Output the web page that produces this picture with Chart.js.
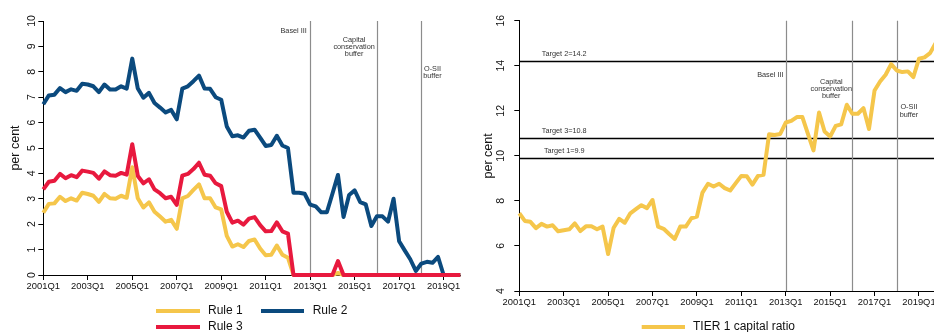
<!DOCTYPE html>
<html>
<head>
<meta charset="utf-8">
<script src="https://cdn.jsdelivr.net/npm/chart.js@4.4.1/dist/chart.umd.min.js"></script>
<style>
    html, body { margin: 0; padding: 0; background: #fff; overflow: hidden; width: 934px; height: 332px; }
    #box-rules { position: absolute; left: 0; top: 0; width: 467px; height: 332px; }
    #box-tier1 { position: absolute; left: 467px; top: 0; width: 480px; height: 332px; }
</style>
</head>
<body>
<div id="box-rules"><canvas id="chart-rules" width="467" height="332"></canvas></div>
<div id="box-tier1"><canvas id="chart-tier1" width="480" height="332"></canvas></div>
<script>
// ---- Data ----
const years = [2001, 2002, 2003, 2004, 2005, 2006, 2007, 2008, 2009, 2010,
               2011, 2012, 2013, 2014, 2015, 2016, 2017, 2018, 2019];
const quarters = [];
years.forEach(function (y) {
    ['Q1', 'Q2', 'Q3', 'Q4'].forEach(function (q) { quarters.push(y + q); });
});

const rule1 = [2.45, 2.8, 2.82, 3.08, 2.91, 3.02, 2.93, 3.24, 3.19, 3.12, 2.88, 3.19, 3.02, 3.0, 3.12, 3.04,
               4.24, 3.02, 2.66, 2.86, 2.49, 2.3, 2.1, 2.17, 1.82, 3.02, 3.11, 3.35, 3.57, 3.02, 3.02, 2.66,
               2.58, 1.54, 1.12, 1.21, 1.1, 1.34, 1.4, 1.04, 0.78, 0.8, 1.16, 0.8, 0.68, 0, 0, 0,
               0, 0, 0, 0, 0, 0.08, 0, 0, 0, 0, 0, 0, 0, 0, 0, 0,
               0, 0, 0, 0, 0, 0, 0, 0, 0, 0, 0, 0];
const rule2 = [6.72, 7.07, 7.1, 7.36, 7.2, 7.31, 7.25, 7.53, 7.5, 7.43, 7.2, 7.5, 7.3, 7.3, 7.43, 7.34,
               8.52, 7.34, 6.98, 7.17, 6.77, 6.59, 6.4, 6.5, 6.13, 7.34, 7.43, 7.63, 7.85, 7.34, 7.33, 7.0,
               6.9, 5.85, 5.46, 5.5, 5.41, 5.68, 5.72, 5.41, 5.08, 5.12, 5.48, 5.1, 5.0, 3.24, 3.24, 3.2,
               2.77, 2.7, 2.47, 2.47, 3.2, 3.94, 2.28, 3.15, 3.33, 2.87, 2.78, 1.93, 2.31, 2.31, 2.1, 3.0,
               1.33, 0.97, 0.62, 0.16, 0.45, 0.52, 0.48, 0.71, 0, 0, 0, 0];
const rule3 = [3.37, 3.67, 3.71, 3.98, 3.81, 3.93, 3.85, 4.11, 4.07, 4.02, 3.79, 4.08, 3.93, 3.91, 4.02, 3.95,
               5.15, 3.9, 3.61, 3.77, 3.37, 3.22, 3.02, 3.08, 2.76, 3.91, 3.98, 4.17, 4.42, 3.95, 3.91, 3.61,
               3.5, 2.49, 2.06, 2.14, 1.98, 2.22, 2.28, 1.96, 1.72, 1.73, 2.07, 1.72, 1.63, 0, 0, 0,
               0, 0, 0, 0, 0, 0.55, 0, 0, 0, 0, 0, 0, 0, 0, 0, 0,
               0, 0, 0, 0, 0, 0, 0, 0, 0, 0, 0, 0];
const tier1 = [7.45, 7.11, 7.07, 6.79, 6.98, 6.86, 6.92, 6.65, 6.7, 6.74, 7.0, 6.66, 6.87, 6.87, 6.74, 6.86,
               5.64, 6.81, 7.2, 7.03, 7.45, 7.63, 7.81, 7.68, 8.04, 6.86, 6.76, 6.53, 6.31, 6.86, 6.86, 7.23,
               7.3, 8.37, 8.76, 8.64, 8.76, 8.57, 8.46, 8.79, 9.11, 9.09, 8.72, 9.11, 9.16, 10.96, 10.93, 10.97,
               11.48, 11.55, 11.72, 11.72, 10.98, 10.24, 11.92, 11.08, 10.86, 11.33, 11.4, 12.27, 11.87, 11.87, 12.12, 11.19,
               12.9, 13.3, 13.6, 14.07, 13.79, 13.72, 13.75, 13.5, 14.31, 14.37, 14.56, 15.0];

// policy events (quarter index) and their labels
const eventIndex = [48, 60, 68];
const eventText = [['Basel III'], ['Capital', 'conservation', 'buffer'], ['O-SII', 'buffer']];

// capital targets on the right chart
const targetValues = [14.2, 10.8, 9.9];
const targetText = ['Target 2=14.2', 'Target 3=10.8', 'Target 1=9.9'];

const COL_YELLOW = '#F5C64B';
const COL_RED = '#E8193E';
const COL_BLUE = '#0B4A7E';
const FONT = '"Liberation Sans", Arial, Helvetica, sans-serif';

Chart.defaults.font.family = FONT;
Chart.defaults.color = '#111';

// ---- Overlay plugin: event lines, targets, rotated y labels, legend ----
const overlay = {
    id: 'overlay',
    beforeDatasetsDraw: function (chart, args, opts) {
        const ctx = chart.ctx;
        const area = chart.chartArea;
        const x = chart.scales.x;
        const y = chart.scales.y;
        ctx.save();
        (opts.targets || []).forEach(function (v) {
            const py = Math.round(y.getPixelForValue(v)) + 0.5;
            ctx.strokeStyle = '#000';
            ctx.lineWidth = 1.3;
            ctx.beginPath();
            ctx.moveTo(area.left, py);
            ctx.lineTo(area.right, py);
            ctx.stroke();
        });
        eventIndex.forEach(function (i) {
            const px = Math.round(x.getPixelForValue(i)) + 0.5;
            ctx.strokeStyle = '#8c8c8c';
            ctx.lineWidth = 1.2;
            ctx.beginPath();
            ctx.moveTo(px, area.top);
            ctx.lineTo(px, area.bottom);
            ctx.stroke();
        });
        ctx.restore();
    },
    afterDraw: function (chart, args, opts) {
        const ctx = chart.ctx;
        const area = chart.chartArea;
        const x = chart.scales.x;
        const y = chart.scales.y;
        ctx.save();

        // y tick labels, rotated like the original
        ctx.fillStyle = '#111';
        ctx.font = '10.5px ' + FONT;
        ctx.textAlign = 'center';
        ctx.textBaseline = 'middle';
        y.ticks.forEach(function (t) {
            ctx.save();
            ctx.translate(area.left - opts.tickOffset, y.getPixelForValue(t.value));
            ctx.rotate(-Math.PI / 2);
            ctx.fillText(String(t.value), 0, 0);
            ctx.restore();
        });

        // event labels
        ctx.fillStyle = '#333';
        ctx.font = '7.3px ' + FONT;
        opts.eventLabels.forEach(function (p, k) {
            ctx.textAlign = p.align;
            const px = x.getPixelForValue(p.idx);
            const py = y.getPixelForValue(p.val);
            eventText[k].forEach(function (line, j) {
                ctx.fillText(line, px, py + j * 7.2);
            });
        });

        // target labels
        (opts.targets || []).forEach(function (v, k) {
            ctx.textAlign = 'center';
            ctx.fillText(targetText[k], x.getPixelForValue(opts.targetLabelIdx), y.getPixelForValue(v) - 7);
        });

        // legend
        ctx.font = '12px ' + FONT;
        ctx.textAlign = 'left';
        opts.legend.forEach(function (item) {
            const ds = chart.data.datasets[item.ds];
            ctx.strokeStyle = ds.borderColor;
            ctx.lineWidth = 4;
            ctx.beginPath();
            ctx.moveTo(item.x1, item.y);
            ctx.lineTo(item.x2, item.y);
            ctx.stroke();
            ctx.fillStyle = '#111';
            ctx.fillText(ds.label, item.tx, item.y);
        });
        ctx.restore();
    }
};

function lineSet(label, data, color, order) {
    return {
        label: label,
        data: data,
        borderColor: color,
        backgroundColor: color,
        borderWidth: 4,
        pointRadius: 0,
        tension: 0,
        borderJoinStyle: 'round',
        clip: false,
        order: order
    };
}

function axes(yMin, yMax, yStep, xHeight, yWidth, titlePad) {
    return {
        x: {
            type: 'category',
            grid: { display: true, drawOnChartArea: false, drawTicks: true, tickLength: 5, tickColor: '#000' },
            border: { display: true, color: '#000', width: 1 },
            ticks: {
                autoSkip: false,
                maxRotation: 0,
                minRotation: 0,
                padding: 1,
                font: { size: 9.4 },
                color: '#111',
                callback: function (val, i) { return i % 8 === 0 ? quarters[i] : null; }
            },
            afterFit: function (s) { s.height = xHeight; }
        },
        y: {
            min: yMin,
            max: yMax,
            grid: { display: true, drawOnChartArea: false, drawTicks: true, tickLength: 5, tickColor: '#000' },
            border: { display: true, color: '#000', width: 1 },
            ticks: { display: false, stepSize: yStep },
            title: { display: true, text: 'per cent', font: { size: 12.5 }, color: '#111', padding: { top: titlePad, bottom: 0 } },
            afterFit: function (s) { s.width = yWidth; }
        }
    };
}

// ---- Left chart: rules ----
new Chart(document.getElementById('chart-rules').getContext('2d'), {
    type: 'line',
    data: {
        labels: quarters,
        datasets: [
            lineSet('Rule 1', rule1, COL_YELLOW, 3),
            lineSet('Rule 2', rule2, COL_BLUE, 2),
            lineSet('Rule 3', rule3, COL_RED, 1)
        ]
    },
    options: {
        responsive: false,
        animation: false,
        devicePixelRatio: 1,
        layout: { padding: { top: 21, right: 6.7, bottom: 0, left: 0 } },
        scales: axes(0, 10, 1, 57, 43.3, 8),
        plugins: {
            legend: { display: false },
            tooltip: { enabled: false },
            overlay: {
                tickOffset: 11.5,
                eventLabels: [
                    { idx: 47.4, val: 9.59, align: 'right' },
                    { idx: 55.9, val: 9.27, align: 'center' },
                    { idx: 70, val: 8.11, align: 'center' }
                ],
                legend: [
                    { ds: 0, x1: 156, x2: 200, y: 311, tx: 208 },
                    { ds: 1, x1: 261, x2: 304, y: 311, tx: 312.7 },
                    { ds: 2, x1: 156, x2: 200, y: 327, tx: 208 }
                ]
            }
        }
    },
    plugins: [overlay]
});

// ---- Right chart: TIER 1 capital ratio ----
new Chart(document.getElementById('chart-tier1').getContext('2d'), {
    type: 'line',
    data: {
        labels: quarters,
        datasets: [
            lineSet('TIER 1 capital ratio', tier1, COL_YELLOW, 1)
        ]
    },
    options: {
        responsive: false,
        animation: false,
        devicePixelRatio: 1,
        layout: { padding: { top: 20.7, right: 11.4, bottom: 0, left: 0 } },
        scales: axes(4, 16, 2, 41, 52.3, 14),
        plugins: {
            legend: { display: false },
            tooltip: { enabled: false },
            overlay: {
                tickOffset: 18,
                targets: targetValues,
                targetLabelIdx: 8.1,
                eventLabels: [
                    { idx: 47.6, val: 13.59, align: 'right' },
                    { idx: 56.2, val: 13.3, align: 'center' },
                    { idx: 70.2, val: 12.15, align: 'center' }
                ],
                legend: [
                    { ds: 0, x1: 174.7, x2: 218, y: 327, tx: 226 }
                ]
            }
        }
    },
    plugins: [overlay]
});
</script>
</body>
</html>
